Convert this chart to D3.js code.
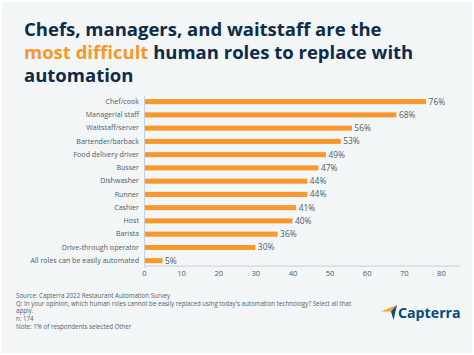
<!DOCTYPE html>
<html><head><meta charset="utf-8">
<script src="https://cdn.jsdelivr.net/npm/d3@7/dist/d3.min.js"></script>
<style>
html,body{margin:0;padding:0;background:#fff;}
svg{display:block;}
</style></head>
<body><svg id="c" width="474" height="355"></svg>
<script>
const categories = ["Chef/cook","Managerial staff","Waitstaff/server","Bartender/barback","Food delivery driver","Busser","Dishwasher","Runner","Cashier","Host","Barista","Drive-through operator","All roles can be easily automated"];
const values = [76,68,56,53,49,47,44,44,41,40,36,30,5];
const xTicks = [0,10,20,30,40,50,60,70,80];
const footLines = ["Source: Capterra 2022 Restaurant Automation Survey","Q: In your opinion, which human roles cannot be easily replaced using today's automation technology? Select all that","apply.","n: 174","Note: 1% of respondents selected Other"];

const svg = d3.select("#c");
const font = "'Open Sans', sans-serif";
const navy = "#0e2b47", orange = "#f7972c", textc = "#4b5b68";

svg.append("rect").attr("x",2).attr("y",2).attr("width",470).attr("height",351).attr("fill","#f2f6f7");

// Title
const title = svg.append("text").attr("font-family",font).attr("font-weight",700).attr("font-size",18.5).attr("fill",navy);
title.append("tspan").attr("x",24).attr("y",36).text("Chefs, managers, and waitstaff are the");
const l2 = title.append("tspan").attr("x",24).attr("y",59);
l2.append("tspan").attr("fill",orange).text("most difficult");
l2.append("tspan").text(" human roles to replace with");
title.append("tspan").attr("x",24).attr("y",81.7).text("automation");

// Scales
const x = d3.scaleLinear().domain([0,85]).range([144,459.5]);
const y = d3.scaleBand().domain(categories).range([95,267.3]).paddingInner(0.62).paddingOuter(0.31);

const g = svg.append("g");
g.selectAll("rect.bar").data(values).join("rect").attr("class","bar")
 .attr("x",x(0)).attr("y",(d,i)=>y(categories[i]))
 .attr("width",d=>x(d)-x(0)).attr("height",y.bandwidth()).attr("fill",orange);

g.selectAll("text.val").data(values).join("text").attr("class","val")
 .attr("x",d=>x(d)+2.5).attr("y",(d,i)=>y(categories[i])+y.bandwidth()/2)
 .attr("dy","0.35em").attr("font-family",font).attr("font-size",8.4).attr("fill",textc)
 .text(d=>d+"%");

// Y axis
const ya = svg.append("g").attr("transform",`translate(${x(0)},0)`).call(d3.axisLeft(y).tickSize(0).tickPadding(5));
ya.select(".domain").attr("stroke","#c9d0d4").attr("stroke-width",1);
ya.selectAll("text").attr("font-family",font).attr("font-size",7.1).attr("fill",textc);

// X axis
const xa = svg.append("g").attr("transform",`translate(0,265.7)`).call(d3.axisBottom(x).tickValues(xTicks).tickSize(0).tickPadding(5));
xa.select(".domain").attr("stroke","#cfd5d8").attr("stroke-width",1.3);
xa.selectAll("text").attr("font-family",font).attr("font-size",7.6).attr("fill",textc);

// Footer
svg.append("g").selectAll("text").data(footLines).join("text")
 .attr("x",16).attr("y",(d,i)=>298+i*7.7).attr("font-family",font).attr("font-size",6.2).attr("fill","#545e66").text(d=>d);

// Logo
const logo = svg.append("g");
logo.append("path").attr("d","M381,311.5 L397,305 L391,311.5 Z").attr("fill","#ff9d28");
logo.append("path").attr("d","M391,311.5 L397,305 L393.5,320 Z").attr("fill","#044d80");
logo.append("text").attr("x",398).attr("y",318).attr("font-family",font).attr("font-weight",700).attr("font-size",14.2).attr("fill","#044d80").text("Capterra");
</script></body></html>
